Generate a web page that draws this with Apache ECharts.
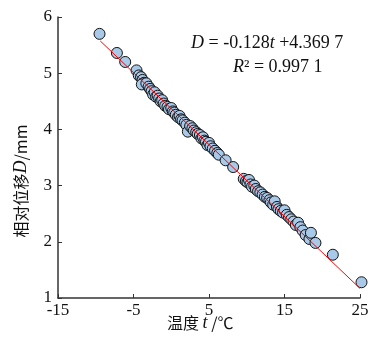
<!DOCTYPE html>
<html>
<head>
<meta charset="utf-8">
<script src="https://cdn.jsdelivr.net/npm/echarts@6/dist/echarts.min.js"></script>
<style>
  html, body { margin: 0; padding: 0; background: #fff; }
  #chart { width: 372px; height: 344px; }
</style>
</head>
<body>
<div id="chart"></div>
<script>
// 温度 t (℃) 与 相对位移 D (mm) 的实测点
const temps = [
  -9.5, -7.2, -6.1, -4.6, -4.3, -4.0, -3.8, -3.6, -3.9, -3.3,
  -3.0, -2.8, -2.6, -2.4, -2.2, -2.0, -1.8, -1.6, -1.4, -1.2,
  -1.0, -0.8, -0.5, -0.3, 0.0, 0.2, 0.4, 0.6, 0.9, 1.1,
  1.3, 1.5, 1.8, 2.0, 2.2, 2.5, 2.8, 3.0, 3.3, 3.5,
  3.8, 4.0, 4.2, 4.4, 4.6, 4.8, 5.0, 5.2, 5.5, 5.8,
  6.1, 6.3, 7.2, 8.2, 9.6, 9.9, 10.1, 10.3, 10.5, 10.7,
  11.0, 11.2, 11.5, 11.8, 12.1, 12.4, 12.7, 13.0, 13.2, 13.5,
  13.7, 14.0, 14.2, 14.5, 14.8, 15.0, 15.3, 15.6, 15.9, 16.2,
  16.5, 16.8, 17.1, 17.4, 17.8, 18.3, 18.5, 19.1, 21.4, 25.2
];
const disps = [
  5.70, 5.36, 5.20, 5.05, 4.96, 4.93, 4.88, 4.83, 4.80, 4.82,
  4.76, 4.72, 4.68, 4.62, 4.66, 4.58, 4.60, 4.55, 4.50, 4.52,
  4.46, 4.42, 4.40, 4.36, 4.38, 4.32, 4.30, 4.26, 4.22, 4.24,
  4.18, 4.16, 4.12, 4.08, 3.96, 4.06, 4.02, 3.98, 3.95, 3.92,
  3.90, 3.84, 3.86, 3.80, 3.78, 3.72, 3.76, 3.70, 3.66, 3.62,
  3.58, 3.55, 3.45, 3.33, 3.12, 3.08, 3.06, 3.10, 3.02, 2.98,
  3.00, 2.94, 2.90, 2.88, 2.84, 2.80, 2.78, 2.74, 2.70, 2.66,
  2.72, 2.62, 2.58, 2.55, 2.52, 2.56, 2.48, 2.44, 2.40, 2.36,
  2.30, 2.34, 2.26, 2.20, 2.12, 2.05, 2.16, 1.98, 1.77, 1.28
];
// 拟合直线 D = -0.128t + 4.369 7 的两个端点
const fitT = [-9.4, 25];
const fitD = [5.573, 1.170];

const xTicks = [-15, -5, 5, 15, 25];
const yTicks = [1, 2, 3, 4, 5, 6];

const serif = '"Liberation Serif", "DejaVu Serif", serif';

const chart = echarts.init(document.getElementById('chart'));

const option = {
  animation: false,
  grid: { left: 58, right: 12, top: 17, bottom: 46 },
  xAxis: {
    type: 'value',
    min: xTicks[0],
    max: xTicks[xTicks.length - 1],
    interval: 10,
    axisLine: { show: true, onZero: false, lineStyle: { color: '#333', width: 1.5 } },
    axisTick: { show: true, inside: true, length: 4, lineStyle: { color: '#333' } },
    axisLabel: { color: '#111', fontFamily: serif, fontSize: 17, margin: 4 },
    splitLine: { show: false }
  },
  yAxis: {
    type: 'value',
    min: yTicks[0],
    max: yTicks[yTicks.length - 1],
    interval: 1,
    axisLine: { show: true, onZero: false, lineStyle: { color: '#333', width: 1.5 } },
    axisTick: { show: true, inside: true, length: 4, lineStyle: { color: '#333' } },
    axisLabel: { color: '#111', fontFamily: serif, fontSize: 17, margin: 6 },
    splitLine: { show: false }
  },
  series: [
    {
      type: 'scatter',
      data: temps.map((t, i) => [t, disps[i]]),
      symbol: 'circle',
      symbolSize: 11,
      clip: false,
      itemStyle: { color: '#a9c9e8', borderColor: '#111', borderWidth: 1, opacity: 1 },
      z: 2
    },
    {
      type: 'line',
      data: fitT.map((t, i) => [t, fitD[i]]),
      showSymbol: false,
      lineStyle: { color: '#ff0000', width: 1 },
      z: 3
    }
  ],
  graphic: [
    {
      type: 'text',
      left: 191,
      top: 34,
      style: {
        text: '{i|D} = -0.128{i|t} +4.369 7',
        fontFamily: serif,
        fontSize: 18,
        fill: '#111',
        rich: { i: { fontStyle: 'italic', fontFamily: serif, fontSize: 18 } }
      }
    },
    {
      type: 'text',
      left: 233,
      top: 58,
      style: {
        text: '{i|R}² = 0.997 1',
        fontFamily: serif,
        fontSize: 18,
        fill: '#111',
        rich: { i: { fontStyle: 'italic', fontFamily: serif, fontSize: 18 } }
      }
    },
    {
      type: 'text',
      left: 167,
      top: 314,
      style: {
        text: '温度 {i|t} /℃',
        fontFamily: '"Noto Sans CJK SC", ' + serif,
        fontSize: 16,
        fill: '#111',
        rich: { i: { fontStyle: 'italic', fontFamily: serif, fontSize: 18 } }
      }
    },
    {
      type: 'text',
      x: 21,
      y: 181,
      rotation: Math.PI / 2,
      style: {
        text: '相对位移{i|D}/mm',
        fontFamily: '"Noto Sans CJK SC", ' + serif,
        fontSize: 16,
        fill: '#111',
        align: 'center',
        verticalAlign: 'middle',
        rich: { i: { fontStyle: 'italic', fontFamily: serif, fontSize: 18 } }
      }
    }
  ]
};

chart.setOption(option);
</script>
</body>
</html>
